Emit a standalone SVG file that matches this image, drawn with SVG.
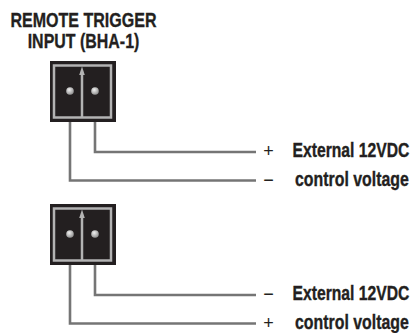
<svg xmlns="http://www.w3.org/2000/svg" width="414" height="333" viewBox="0 0 414 333">
<style>
.t{font-family:"Liberation Sans",Arial,sans-serif;font-weight:bold;fill:#231f20;stroke:#231f20;stroke-width:0.35}
.s{font-family:"Liberation Sans",Arial,sans-serif;fill:#231f20;font-size:18px;text-anchor:middle}
.box{fill:#231f20}
.frame{fill:none;stroke:#b3b3b3;stroke-width:2.5}
.div{stroke:#b3b3b3;stroke-width:2.5}
.wire{fill:none;stroke:#757575;stroke-width:2.6}
.arr{fill:#b3b3b3}
.pin{fill:url(#pg)}
</style>
<defs>
<radialGradient id="pg" cx="0.4" cy="0.35" r="0.7">
<stop offset="0" stop-color="#f0f0f0"/>
<stop offset="1" stop-color="#8a8a8a"/>
</radialGradient>
<g id="conn">
<rect class="box" x="50" y="61" width="66" height="61"/>
<rect class="frame" x="54" y="65.5" width="57" height="52"/>
<line class="div" x1="82" y1="73" x2="82" y2="117"/>
<polygon class="arr" points="82,66.5 79.2,75 84.8,75"/>
</g>
</defs>
<g id="title">
<text class="t" transform="translate(83.5,26.5) scale(0.764,1)" font-size="21" text-anchor="middle">REMOTE TRIGGER</text>
<text class="t" transform="translate(83.5,48) scale(0.76,1)" font-size="21" text-anchor="middle">INPUT (BHA-1)</text>
</g>
<g id="connectors">
<polyline class="wire" points="95,93 95,152 256,152"/>
<polyline class="wire" points="70,93 70,180.5 256,180.5"/>
<polyline class="wire" points="95,236 95,295 256,295"/>
<polyline class="wire" points="70,236 70,323.5 256,323.5"/>
</g>
<g id="connector1">
<use href="#conn"/>
<circle class="pin" cx="70" cy="91" r="3.8"/>
<circle class="pin" cx="95" cy="91" r="3.8"/>
</g>
<g id="connector2">
<use href="#conn" transform="translate(0,143)"/>
<circle class="pin" cx="70" cy="234" r="3.8"/>
<circle class="pin" cx="95" cy="234" r="3.8"/>
</g>
<g id="label1">
<text class="s" x="268.5" y="157">+</text>
<text class="s" x="268.5" y="186">−</text>
<text class="t" transform="translate(292.5,157) scale(0.806,1)" font-size="19.5">External 12VDC</text>
<text class="t" transform="translate(295,186) scale(0.815,1)" font-size="19.5">control voltage</text>
</g>
<g id="label2">
<text class="s" x="268.5" y="300">−</text>
<text class="s" x="268.5" y="329">+</text>
<text class="t" transform="translate(292.5,300) scale(0.806,1)" font-size="19.5">External 12VDC</text>
<text class="t" transform="translate(295,329) scale(0.815,1)" font-size="19.5">control voltage</text>
</g>
</svg>
